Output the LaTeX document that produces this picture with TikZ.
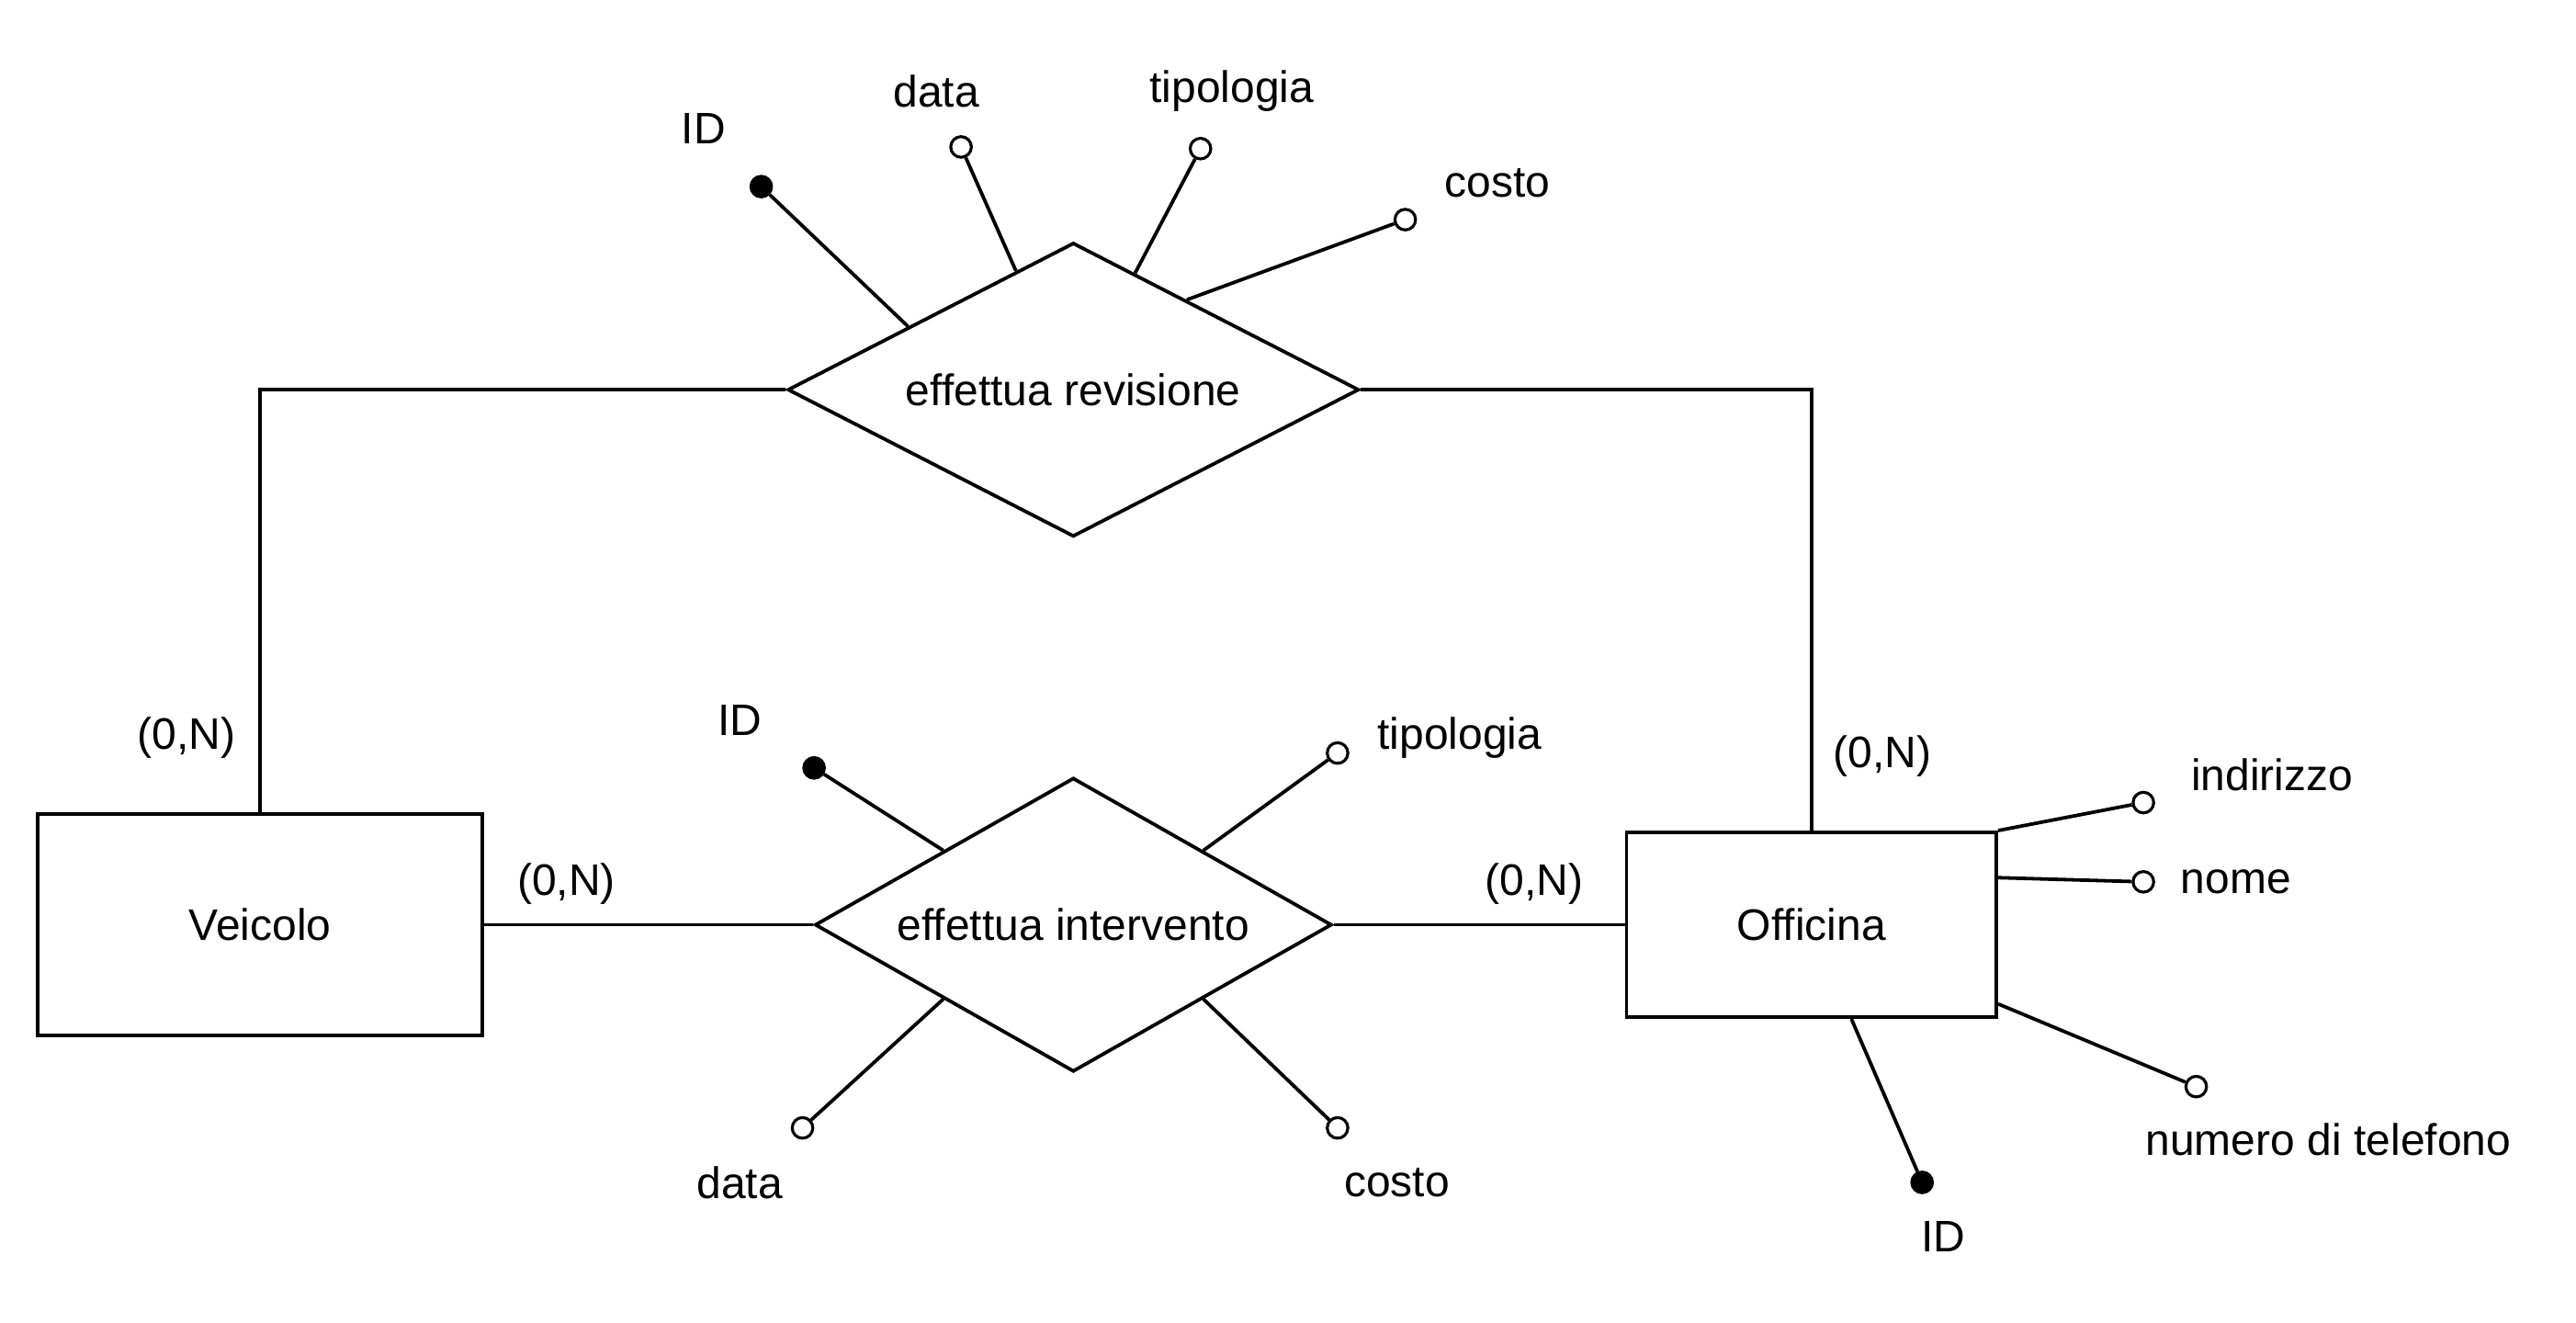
\documentclass[tikz,border=0pt]{standalone}
\usepackage{fontspec}
\setmainfont{Liberation Sans}
\usepackage{tikz}
\usetikzlibrary{shapes.geometric,calc}

\begin{document}
\begin{tikzpicture}[
    entity/.style={draw, line width=1.2pt, align=center},
    relation/.style={draw, diamond, line width=1.2pt, inner sep=0pt, aspect=2, align=center},
    attr/.style={draw, circle, line width=1pt, fill=white, inner sep=0pt, minimum size=0.25cm},
    keyattr/.style={attr, fill=black},
    conn/.style={line width=1.2pt},
    every node/.style={font=\fontsize{15.2}{17}\selectfont}
]
\useasboundingbox (0,0) rectangle (31.2,-16.023);

% ---- Entities ----
\node[entity, minimum width=5.38cm, minimum height=2.68cm] (veicolo) at (3.15,-11.2) {Veicolo};
\node[entity, minimum width=4.48cm, minimum height=2.24cm] (officina) at (21.94,-11.2) {Officina};

% ---- Relations ----
\node[relation, minimum width=6.92cm, minimum height=3.56cm] (revisione) at (13.0,-4.72) {effettua revisione};
\node[relation, minimum width=6.26cm, minimum height=3.56cm] (intervento) at (13.0,-11.2) {effettua intervento};

% ---- Connections ----
\draw[conn] (revisione.west) -| (veicolo.north);
\draw[conn] (revisione.east) -| (officina.north);
\draw[conn] (veicolo.east) -- (intervento.west);
\draw[conn] (intervento.east) -- (officina.west);

% ---- Cardinalities ----
\node (cv1) at (2.26,-8.94) {(0,N)};
\node (co1) at (22.80,-9.16) {(0,N)};
\node (cv2) at (6.86,-10.70) {(0,N)};
\node (co2) at (18.58,-10.70) {(0,N)};

% ---- Attributes of effettua revisione ----
\node[keyattr] (revid) at (9.22,-2.26) {};
\node[attr] (revdata) at (11.64,-1.78) {};
\node[attr] (revtip) at (14.54,-1.80) {};
\node[attr] (revcosto) at (17.02,-2.66) {};
\node (revidtxt) at (8.52,-1.56) {ID};
\node (revdatatxt) at (11.34,-1.10) {data};
\node (revtiptxt) at (14.92,-1.10) {tipologia};
\node (revcostotxt) at (18.14,-2.22) {costo};
\draw[conn] (revid) -- ($(revisione.west)!0.425!(revisione.north)$);
\draw[conn] (revdata) -- ($(revisione.west)!0.8!(revisione.north)$);
\draw[conn] (revtip) -- ($(revisione.north)!0.215!(revisione.east)$);
\draw[conn] (revcosto) -- ($(revisione.north)!0.395!(revisione.east)$);

% ---- Attributes of effettua intervento ----
\node[keyattr] (intid) at (9.86,-9.30) {};
\node[attr] (inttip) at (16.20,-9.12) {};
\node[attr] (intdata) at (9.72,-13.66) {};
\node[attr] (intcosto) at (16.20,-13.66) {};
\node (intidtxt) at (8.96,-8.72) {ID};
\node (inttiptxt) at (17.68,-8.94) {tipologia};
\node (intdatatxt) at (8.96,-14.32) {data};
\node (intcostotxt) at (16.92,-14.32) {costo};
\draw[conn] (intid) -- ($(intervento.west)!0.5!(intervento.north)$);
\draw[conn] (inttip) -- ($(intervento.north)!0.5!(intervento.east)$);
\draw[conn] (intdata) -- ($(intervento.west)!0.5!(intervento.south)$);
\draw[conn] (intcosto) -- ($(intervento.east)!0.5!(intervento.south)$);

% ---- Attributes of Officina ----
\node[attr] (offind) at (25.96,-9.72) {};
\node[attr] (offnome) at (25.96,-10.68) {};
\node[attr] (offtel) at (26.60,-13.16) {};
\node[keyattr] (offid) at (23.28,-14.32) {};
\node (offindtxt) at (27.52,-9.38) {indirizzo};
\node (offnometxt) at (27.08,-10.68) {nome};
\node (offteltxt) at (28.20,-13.80) {numero di telefono};
\node (offidtxt) at (23.54,-14.98) {ID};
\draw[conn] (offind) -- (officina.north east);
\draw[conn] (offnome) -- ($(officina.north east)!0.25!(officina.south east)$);
\draw[conn] (offtel) -- ($(officina.north east)!0.92!(officina.south east)$);
\draw[conn] (offid) -- ($(officina.south west)!0.607!(officina.south east)$);

\end{tikzpicture}
\end{document}
